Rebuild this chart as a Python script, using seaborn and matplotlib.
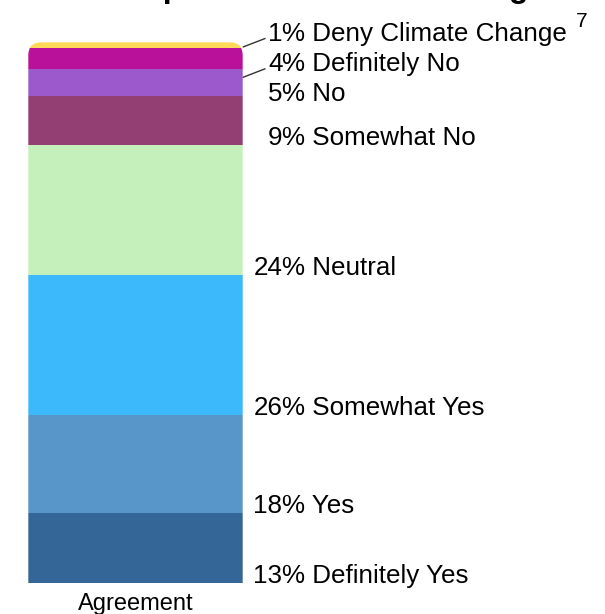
import numpy as np
import pandas as pd
import matplotlib
matplotlib.use("Agg")
import matplotlib.pyplot as plt
import seaborn as sns
from matplotlib.patches import FancyBboxPatch
from matplotlib.transforms import IdentityTransform, blended_transform_factory

# ---- data (bottom to top) ----
category = "Agreement"
labels = ["Definitely Yes", "Yes", "Somewhat Yes", "Neutral",
          "Somewhat No", "No", "Definitely No", "Deny Climate Change"]
values = [13, 18, 26, 24, 9, 5, 4, 1]
colors = ["#346698", "#5896CA", "#3BB9FA", "#C5F0BC",
          "#943F74", "#9B59CC", "#BA119A", "#FFD95A"]
title = "Response to Climate Change"
footnote = "7"

sns.set_style("white")
plt.rcParams["font.family"] = ["Liberation Sans", "DejaVu Sans"]
plt.rcParams["text.color"] = "black"
plt.rcParams["xtick.color"] = "black"

W, H = 605, 614
fig = plt.figure(figsize=(W / 100, H / 100), dpi=100)

# axes covering exactly the bar
bx0, bx1 = 28.3, 242.7
by_top, by_bot = 42.3, 583.0
ax = fig.add_axes([bx0 / W, (H - by_bot) / H, (bx1 - bx0) / W, (by_bot - by_top) / H])

df = pd.DataFrame({"category": [category] * len(values), "label": labels,
                   "value": values})
df["bottom"] = df["value"].cumsum() - df["value"]

# rounded top clip path (pixel coordinates)
rad = 13
clip = FancyBboxPatch((bx0, H - by_bot - 30), bx1 - bx0, (by_bot - by_top) + 30,
                      boxstyle=f"round,pad=0,rounding_size={rad}",
                      transform=IdentityTransform(), facecolor="none", edgecolor="none")

for i, row in df.iterrows():
    sns.barplot(data=df.iloc[[i]], x="category", y="value", bottom=row["bottom"],
                color=colors[i], width=1, errorbar=None, ax=ax,
                edgecolor="none", linewidth=0, saturation=1)

for p in ax.patches:
    p.set_clip_path(clip)

ax.set_ylim(0, 100)
ax.set_xlim(-0.5, 0.5)
for s in ax.spines.values():
    s.set_visible(False)
ax.set_yticks([])
ax.set_xlabel("")
ax.set_ylabel("")
ax.tick_params(axis="x", length=0, pad=7, labelsize=17, labelcolor="black")

# ---- labels with simple anti-overlap relaxation ----
px_per_unit = (by_bot - by_top) / 100.0
min_gap = 30.3 / px_per_unit
anchors = df["bottom"].to_numpy(dtype=float)
pos = anchors.copy()
for _ in range(500):
    for j in range(len(pos) - 1):
        gap = pos[j + 1] - pos[j]
        if gap < min_gap:
            d = (min_gap - gap) / 2
            pos[j] -= d
            pos[j + 1] += d

trans = blended_transform_factory(IdentityTransform(), ax.transData)
xnum = 282.4
fs = 18.7
deny_text = None
for j, row in df.iterrows():
    y = pos[j]
    ax.text(xnum, y, f"{row['value']}", transform=trans, ha="right", va="baseline",
            fontsize=fs, color="black", clip_on=False)
    t = ax.text(xnum, y, f"% {row['label']}", transform=trans, ha="left", va="baseline",
                fontsize=fs, color="black", clip_on=False)
    if row["value"] < 5:
        y0 = y - 6.3 / px_per_unit
        y1 = y + 2.5 / px_per_unit
        ax.plot([bx1, 265.5], [y0, y1], transform=trans, color="#333333",
                lw=1.0, clip_on=False, solid_capstyle="butt")
    if j == len(df) - 1:
        deny_text = t

fig.canvas.draw()
bb = deny_text.get_window_extent()
fig.text((bb.x1 + 9) / W, (H - 26.7) / H, footnote, fontsize=15,
         ha="left", va="baseline", color="black")

# title (mostly cropped at top edge, as in the reference)
fig.text(324.7 / W, (H + 2.7) / H, title, fontsize=23, fontweight="bold",
         ha="center", va="baseline", color="black")

fig.savefig("out.png", dpi=100)
